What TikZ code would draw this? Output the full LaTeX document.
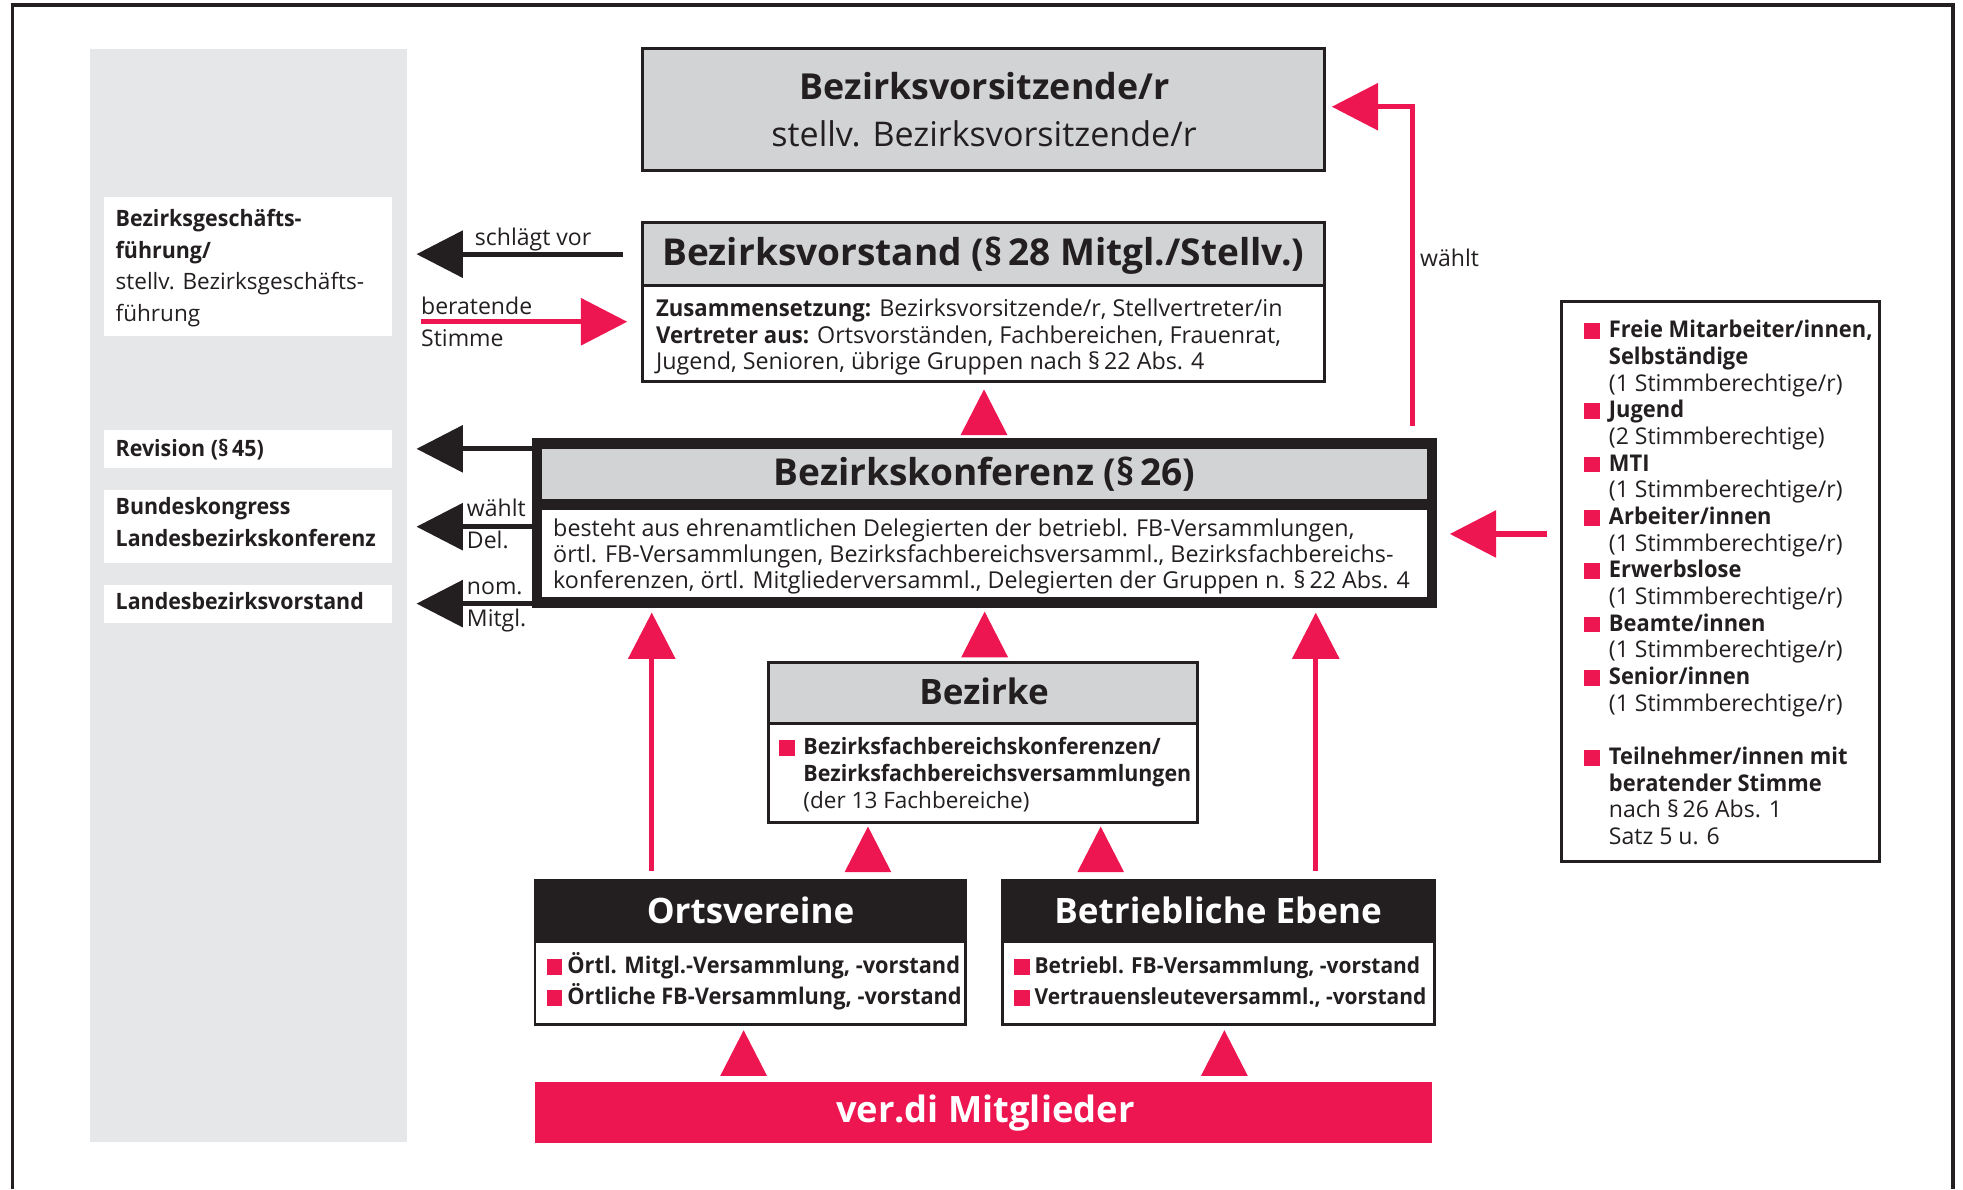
\documentclass[tikz,border=0pt]{standalone}
\usepackage{fontspec}
\setmainfont{Open Sans}
\newfontfamily\sbfam[FakeStretch=0.95]{Open Sans}
\usetikzlibrary{fit,arrows.meta}
\definecolor{vred}{RGB}{237,22,81}
\definecolor{hgray}{RGB}{209,211,212}
\definecolor{pgray}{RGB}{230,231,232}
\definecolor{ink}{RGB}{35,31,32}
\newcommand\fsz[2]{\fontsize{#1}{#2}\selectfont\lineskiplimit=-30pt\lineskip=0pt}
\newcommand\bulx[1]{\makebox[#1][l]{\textcolor{vred}{\raisebox{-0.5pt}{\rule{6.3pt}{6.3pt}}}}}
\newcommand\indx[1]{\hspace*{#1}}
\newcommand\sbx{\sbfam\bfseries}
\newcommand\uptri[2]{\fill[vred] (#1-18.7,#2) -- (#1,#2-36.5) -- (#1+18.7,#2) -- cycle;}
\begin{document}
\begin{tikzpicture}[x=0.5pt,y=-0.5pt,
  rect/.style={inner sep=0pt, outer sep=0pt, fit={#1}},
  ttl/.style={inner sep=0pt, anchor=base, text=ink, font=\bfseries\fsz{14}{16}},
  txt/.style={inner sep=0pt, anchor=base west, text=ink, font=\fsz{9.3}{10.4}},
  lbl/.style={inner sep=0pt, anchor=base west, text=ink, font=\fsz{9}{12.65}},
  grptxt/.style={inner sep=0pt, anchor=base west, text=ink, font=\fsz{9.2}{10.65}},
  bultxt/.style={inner sep=0pt, anchor=base west, text=ink, font=\fsz{9}{12.65}},
  redarr/.style={draw=vred, line width=2.1pt, -{Triangle[length=18.5pt,width=18.5pt]}},
  blkarr/.style={draw=ink, line width=2pt, -{Triangle[length=18.5pt,width=18.5pt]}}
]
\path[use as bounding box] (0,0) rectangle (1568,950);
% outer frame
\draw[ink, line width=1.3pt] (10,950) -- (10,4) -- (1560,4) -- (1560,950);

% left panel
\node[rect={(72,39) (325,912.5)}, fill=pgray] (panel) {};
\node[rect={(83,157) (313,268.5)}, fill=white] (gf) {};
\node[rect={(83,343.5) (313,373.5)}, fill=white] (rev) {};
\node[rect={(83,391.4) (313,450)}, fill=white] (bund) {};
\node[rect={(83,467) (313,497.3)}, fill=white] (lbv) {};
\node[lbl] (gft) at (92,181) {\vtop{\hbox{\sbx Bezirksgeschäfts-}\hbox{\sbx führung/}\hbox{stellv. Bezirksgeschäfts-}\hbox{führung}}};
\node[lbl] (revt) at (92,364.7) {\sbx Revision (§\,45)};
\node[lbl] (bundt) at (92,411.3) {\vtop{\hbox{\sbx Bundeskongress}\hbox{\sbx Landesbezirkskonferenz}}};
\node[lbl] (lbvt) at (92,487) {\sbx Landesbezirksvorstand};

% Bezirksvorsitzende
\node[rect={(513.6,39) (1058.3,136.3)}, fill=hgray, draw=ink, line width=1.2pt] (vors) {};
\node[ttl, font=\bfseries\fsz{14.3}{16}] (vors1) at (786.5,79.3) {Bezirksvorsitzende/r};
\node[ttl, font=\fsz{13.6}{16}] (vors2) at (786,117.2) {stellv. Bezirksvorsitzende/r};

% Bezirksvorstand
\node[rect={(513.6,178) (1058.3,228)}, fill=hgray, draw=ink, line width=1.2pt] (vsth) {};
\node[rect={(513.6,228) (1058.3,305)}, fill=white, draw=ink, line width=1.2pt] (vstb) {};
\node[ttl, font=\bfseries\fsz{14.8}{16}] (vstt) at (785.5,212) {Bezirksvorstand (§\,28 Mitgl./Stellv.)};
\node[txt, font=\fsz{9.3}{10.5}] (vstx) at (523.7,253) {\vtop{%
  \hbox{{\sbx Zusammensetzung:} Bezirksvorsitzende/r, Stellvertreter/in}%
  \hbox{{\sbx Vertreter aus:} Ortsvorständen, Fachbereichen, Frauenrat,}%
  \hbox{Jugend, Senioren, übrige Gruppen nach §\,22 Abs. 4}}};

% Bezirkskonferenz
\node[rect={(424.8,350) (1148.1,485.3)}, fill=ink] (bk) {};
\node[rect={(433.3,358.5) (1139.6,398.8)}, fill=hgray] (bkh) {};
\node[rect={(433.3,407.3) (1139.6,476.8)}, fill=white] (bkb) {};
\node[ttl, font=\bfseries\fsz{14.8}{16}] (bkt) at (786.5,387.7) {Bezirkskonferenz (§\,26)};
\node[txt] (bkx) at (441.5,428.6) {\vtop{%
  \hbox{besteht aus ehrenamtlichen Delegierten der betriebl. FB-Versammlungen,}%
  \hbox{örtl. FB-Versammlungen, Bezirksfachbereichsversamml., Bezirksfachbereichs-}%
  \hbox{konferenzen, örtl. Mitgliederversamml., Delegierten der Gruppen n. §\,22 Abs. 4}}};

% Bezirke
\node[rect={(614,529) (956.8,578)}, fill=hgray, draw=ink, line width=1.1pt] (bzh) {};
\node[rect={(614,578) (956.8,657)}, fill=white, draw=ink, line width=1.1pt] (bzb) {};
\node[ttl] (bzt) at (786,563) {Bezirke};
\node[bultxt, font=\fsz{9}{10.65}] (bzx) at (622,603) {\vtop{%
  \hbox{\bulx{9.7pt}\sbx Bezirksfachbereichskonferenzen/}%
  \hbox{\indx{9.7pt}\sbx Bezirksfachbereichsversammlungen}%
  \hbox{\indx{9.7pt}(der 13 Fachbereiche)}}};

% Ortsvereine
\node[rect={(427.3,702.9) (771.2,752)}, fill=ink, draw=ink, line width=1.1pt] (ovh) {};
\node[rect={(427.3,752) (771.2,818.1)}, fill=white, draw=ink, line width=1.1pt] (ovb) {};
\node[ttl, text=white] (ovt) at (599.5,737.5) {Ortsvereine};
\node[bultxt, font=\fsz{9.15}{12.65}] (ovx) at (436.2,777.4) {\vtop{%
  \hbox{\bulx{8.3pt}\sbx Örtl. Mitgl.-Versammlung, -vorstand}%
  \hbox{\bulx{8.3pt}\sbx Örtliche FB-Versammlung, -vorstand}}};

% Betriebliche Ebene
\node[rect={(800.8,702.9) (1145.6,752)}, fill=ink, draw=ink, line width=1.1pt] (beh) {};
\node[rect={(800.8,752) (1145.6,818.1)}, fill=white, draw=ink, line width=1.1pt] (beb) {};
\node[ttl, text=white] (bet) at (973,737.5) {Betriebliche Ebene};
\node[bultxt, font=\fsz{8.8}{12.65}] (bex) at (809.4,777.4) {\vtop{%
  \hbox{\bulx{8.3pt}\sbx Betriebl. FB-Versammlung, -vorstand}%
  \hbox{\bulx{8.3pt}\sbx Vertrauensleuteversamml., -vorstand}}};

% ver.di Mitglieder
\node[rect={(427.3,864) (1143.6,912.7)}, fill=vred] (mit) {};
\node[ttl, text=white, font=\bfseries\fsz{14.5}{16}] (mitt) at (787,896.7) {ver.di Mitglieder};

% Gruppen box
\node[rect={(1247.5,240.5) (1501.6,688)}, fill=white, draw=ink, line width=1.15pt] (grp) {};
\node[grptxt] (grpx) at (1265,269.9) {\vtop{%
  \hbox{\bulx{9.9pt}\sbx Freie Mitarbeiter/innen,}%
  \hbox{\indx{9.9pt}\sbx Selbständige}%
  \hbox{\indx{9.9pt}(1 Stimmberechtige/r)}%
  \hbox{\bulx{9.9pt}\sbx Jugend}%
  \hbox{\indx{9.9pt}(2 Stimmberechtige)}%
  \hbox{\bulx{9.9pt}\sbx MTI}%
  \hbox{\indx{9.9pt}(1 Stimmberechtige/r)}%
  \hbox{\bulx{9.9pt}\sbx Arbeiter/innen}%
  \hbox{\indx{9.9pt}(1 Stimmberechtige/r)}%
  \hbox{\bulx{9.9pt}\sbx Erwerbslose}%
  \hbox{\indx{9.9pt}(1 Stimmberechtige/r)}%
  \hbox{\bulx{9.9pt}\sbx Beamte/innen}%
  \hbox{\indx{9.9pt}(1 Stimmberechtige/r)}%
  \hbox{\bulx{9.9pt}\sbx Senior/innen}%
  \hbox{\indx{9.9pt}(1 Stimmberechtige/r)}%
  \hbox{}%
  \hbox{\bulx{9.9pt}\sbx Teilnehmer/innen mit}%
  \hbox{\indx{9.9pt}\sbx beratender Stimme}%
  \hbox{\indx{9.9pt}nach §\,26 Abs. 1}%
  \hbox{\indx{9.9pt}Satz 5 u. 6}}};

% connectors
\coordinate (bsS) at (336,257);
\coordinate (gS) at (1235.5,426.5);
\coordinate (wx) at (1128,0);
\coordinate (lx) at (520.6,0);
\coordinate (rx) at (1051,0);
\draw[blkarr] ([xshift=-8pt]vsth.west) -- ([xshift=3.85pt]panel.east |- vsth.west);
\draw[redarr] (bsS) -- ([xshift=-6.3pt]vstb.west |- bsS);
\draw[blkarr] (bk.west |- rev.east) -- ([xshift=3.85pt]panel.east |- rev.east);
\draw[blkarr] (bk.west |- bund.east) -- ([xshift=3.85pt]panel.east |- bund.east);
\draw[blkarr] (bk.west |- lbv.east) -- ([xshift=3.85pt]panel.east |- lbv.east);
\draw[redarr] ([yshift=5pt]bk.north -| wx) |- ([xshift=2.75pt,yshift=1.2pt]vors.east);
\draw[redarr] (gS) -- ([xshift=5pt]bk.east |- gS);
\draw[redarr] ([yshift=3.5pt]ovh.north -| lx) -- ([yshift=-2pt]bk.south -| lx);
\draw[redarr] ([yshift=3.5pt]beh.north -| rx) -- ([yshift=-2pt]bk.south -| rx);

% arrow-only triangles
\uptri{786}{347.5}
\uptri{786.5}{525}
\uptri{693.3}{696.7}
\uptri{879.2}{696.7}
\uptri{594}{859.4}
\uptri{978}{859.4}

% labels
\node[lbl, font=\fsz{9.2}{12}] (l1) at (379,196) {schlägt vor};
\node[lbl, font=\fsz{9.2}{12}] (l2) at (336,251.6) {beratende};
\node[lbl, font=\fsz{9.2}{12}] (l3) at (336,277) {Stimme};
\node[lbl, font=\fsz{9.2}{12}] (l4) at (1134,213) {wählt};
\node[lbl, font=\fsz{9.2}{12}] (l5) at (372.6,412.6) {wählt};
\node[lbl, font=\fsz{9.2}{12}] (l6) at (372.6,438) {Del.};
\node[lbl, font=\fsz{9.2}{12}] (l7) at (372.6,475) {nom.};
\node[lbl, font=\fsz{9.2}{12}] (l8) at (372.6,500.5) {Mitgl.};
\end{tikzpicture}
\end{document}
